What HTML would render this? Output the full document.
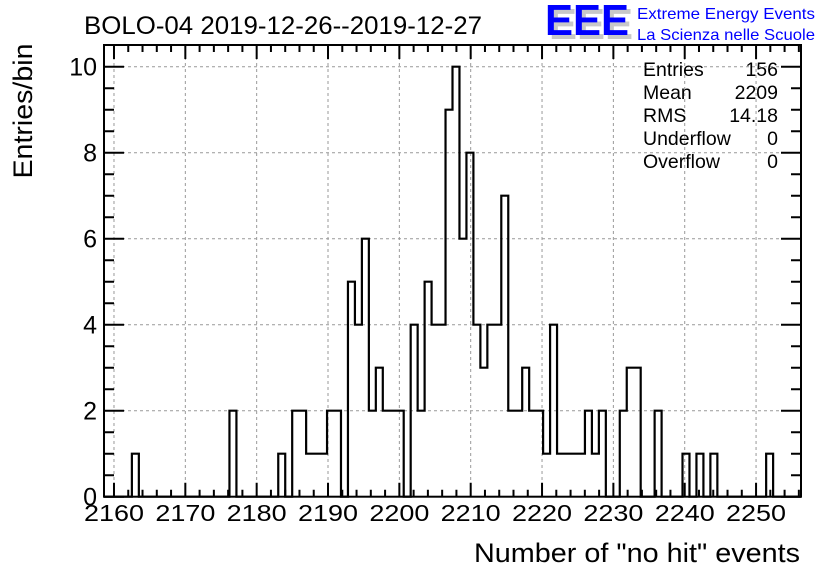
<!DOCTYPE html>
<html><head><meta charset="utf-8"><style>
html,body{margin:0;padding:0;background:#fff;}
svg{display:block;font-family:"Liberation Sans",Arial,sans-serif;}
</style></head><body>
<svg id="chart" width="836" height="572" viewBox="0 0 836 572" xmlns="http://www.w3.org/2000/svg">
<rect width="836" height="572" fill="#fff"/>
<text x="84" y="34" font-size="25" textLength="398" lengthAdjust="spacingAndGlyphs">BOLO-04 2019-12-26--2019-12-27</text>
<g>
<text x="549" y="39" font-size="44" font-weight="bold" fill="#c8c8c8" textLength="84" lengthAdjust="spacingAndGlyphs">EEE</text>
<text x="545" y="35" font-size="44" font-weight="bold" fill="#0000ff" textLength="84" lengthAdjust="spacingAndGlyphs">EEE</text>
<text x="637" y="19" font-size="16" fill="#0000ff" textLength="178" lengthAdjust="spacingAndGlyphs">Extreme Energy Events</text>
<text x="637" y="40" font-size="16" fill="#0000ff" textLength="178" lengthAdjust="spacingAndGlyphs">La Scienza nelle Scuole</text>
</g>
<g id="grid"></g>
<g id="ticks"></g>
<path id="hist" fill="none" stroke="#000" stroke-width="2.2"/>
<rect x="104" y="45" width="697" height="451.7" fill="none" stroke="#000" stroke-width="2"/>
<g id="xlabels"></g>
<g id="ylabels"></g>
<text x="800" y="562" font-size="27" text-anchor="end" textLength="326" lengthAdjust="spacingAndGlyphs">Number of "no hit" events</text>
<text transform="translate(32,111) rotate(-90)" font-size="27" text-anchor="middle" textLength="135" lengthAdjust="spacingAndGlyphs">Entries/bin</text>
<g font-size="19.5">
<text x="643" y="76">Entries</text><text x="778" y="76" text-anchor="end">156</text>
<text x="643" y="99">Mean</text><text x="778" y="99" text-anchor="end">2209</text>
<text x="643" y="122">RMS</text><text x="778" y="122" text-anchor="end">14.18</text>
<text x="643" y="145">Underflow</text><text x="778" y="145" text-anchor="end">0</text>
<text x="643" y="168">Overflow</text><text x="778" y="168" text-anchor="end">0</text>
</g>
</svg>
<script>
const binLow = 2158.6;
const binWidth = 0.977;
const counts = [0,0,0,0,1,0,0,0,0,0, 0,0,0,0,0,0,0,0,2,0, 0,0,0,0,0,1,0,2,2,1, 1,1,2,2,0,5,4,6,2,3, 2,2,2,0,4,2,5,4,4,9, 10,6,8,4,3,4,4,7,2,2, 3,2,2,1,4,1,1,1,1,2, 1,2,0,0,2,3,3,0,0,2, 0,0,0,1,0,1,0,1,0,0, 0,0,0,0,0,1,0,0,0,0];
const xTicks = [2160,2170,2180,2190,2200,2210,2220,2230,2240,2250];
const yTicks = [0,2,4,6,8,10];

const X0=104,X1=801,XMIN=2158.6,XMAX=2256.3;
const Y0=496.7,PXU=43;
const sx=v=>X0+(v-XMIN)/(XMAX-XMIN)*(X1-X0);
const sy=v=>Y0-v*PXU;
const NS='http://www.w3.org/2000/svg';
function mk(tag,attrs,parent){const e=document.createElementNS(NS,tag);for(const k in attrs)e.setAttribute(k,attrs[k]);parent.appendChild(e);return e;}
const grid=document.getElementById('grid'),ticks=document.getElementById('ticks');
const xl=document.getElementById('xlabels'),yl=document.getElementById('ylabels');
xTicks.forEach(t=>{
  const x=sx(t);
  const g=mk('line',{x1:x,x2:x,y1:45,y2:Y0,stroke:'#999','stroke-width':1,'stroke-dasharray':'3,3'},grid);
  
  
  const lb=mk('text',{x:x-30,y:521,'font-size':23,textLength:60,lengthAdjust:'spacingAndGlyphs'},xl);
  lb.textContent=t;
  
  
});
yTicks.forEach(t=>{
  const y=sy(t);
  if(t>0){const g=mk('line',{x1:X0,x2:X1,y1:y,y2:y,stroke:'#999','stroke-width':1,'stroke-dasharray':'3,3'},grid);
  
  }
  const lb=mk('text',{x:97,y:y+9,'font-size':25,'text-anchor':'end'},yl);
  lb.textContent=t;
  
  
});
let d='';
for(let v=2160;v<=2256;v+=2){const x=sx(v);const L=(v%10===0)?14:7;
  d+=`M${x} ${Y0}V${Y0-L}M${x} 45V${45+L}`;}
for(let v=0;v<=10.4;v+=0.5){const y=sy(v);const L=(Math.abs(v%2)<1e-6)?20:10;
  d+=`M${X0} ${y}H${X0+L}M${X1} ${y}H${X1-L}`;}
const tp=mk('path',{d:d,stroke:'#000','stroke-width':2,fill:'none'},ticks);


let h=`M${sx(binLow)} ${sy(0)}`;
counts.forEach((c,i)=>{const a=sx(binLow+i*binWidth),b=sx(binLow+(i+1)*binWidth);h+=`L${a} ${sy(c)}L${b} ${sy(c)}`;});
h+=`L${sx(binLow+counts.length*binWidth)} ${sy(0)}`;
document.getElementById('hist').setAttribute('d',h);
</script>
</body></html>
